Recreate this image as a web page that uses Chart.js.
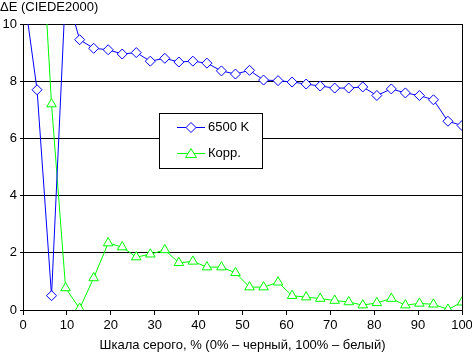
<!DOCTYPE html>
<html>
<head>
<meta charset="utf-8">
<script src="https://cdn.jsdelivr.net/npm/chart.js@4/dist/chart.umd.min.js"></script>
<style>
  html, body { margin: 0; padding: 0; background: #fff; }
  #wrap { width: 472px; height: 353px; position: relative; }
</style>
</head>
<body>
<div id="wrap"><canvas id="chart"></canvas></div>
<script>
// gray level, %
const grayLevels = [0, 3.2, 6.5, 9.7, 12.9, 16.1, 19.4, 22.6, 25.8, 29, 32.3, 35.5, 38.7, 41.9, 45.2, 48.4,
  51.6, 54.8, 58.1, 61.3, 64.5, 67.7, 71, 74.2, 77.4, 80.6, 83.9, 87.1, 90.3, 93.5, 96.8, 100];
const de6500 = [11.3, 7.7, 0.5, 11.2, 9.45, 9.15, 9.1, 8.95, 9.0, 8.7, 8.8, 8.67, 8.7, 8.63, 8.36, 8.25,
  8.38, 8.04, 8.02, 7.97, 7.9, 7.83, 7.76, 7.76, 7.8, 7.5, 7.73, 7.59, 7.5, 7.35, 6.6, 6.45];
const deCorr = [20, 16, 7.2, 0.77, 0.05, 1.12, 2.34, 2.2, 1.85, 1.95, 2.1, 1.65, 1.7, 1.5, 1.5, 1.3,
  0.8, 0.8, 0.97, 0.5, 0.45, 0.4, 0.33, 0.28, 0.17, 0.25, 0.4, 0.17, 0.23, 0.2, 0.02, 0.27];
const seriesNames = ["6500 K", "Корр."];
const yTitle = "ΔE (CIEDE2000)";
const xTitle = "Шкала серого, % (0% – черный, 100% – белый)";

const FONT = "'Liberation Sans', Arial, sans-serif";

function toPoints(xs, ys) {
  return xs.map((x, i) => ({ x: x, y: ys[i] }));
}

function drawMarker(ctx, style, x, y, color) {
  ctx.save();
  ctx.strokeStyle = color;
  ctx.fillStyle = "#fff";
  ctx.lineWidth = 1;
  ctx.beginPath();
  if (style === "rectRot") {
    ctx.moveTo(x, y - 5); ctx.lineTo(x + 5, y); ctx.lineTo(x, y + 5); ctx.lineTo(x - 5, y);
  } else {
    ctx.moveTo(x, y - 5); ctx.lineTo(x + 5.5, y + 4); ctx.lineTo(x - 5.5, y + 4);
  }
  ctx.closePath();
  ctx.fill();
  ctx.stroke();
  ctx.restore();
}

// title at top-left, right frame line, legend box inside plot
const extrasPlugin = {
  id: "extras",
  afterDraw(chart) {
    const ctx = chart.ctx;
    const a = chart.chartArea;
    ctx.save();
    ctx.fillStyle = "#000";
    ctx.font = "13px " + FONT;
    ctx.textBaseline = "alphabetic";
    ctx.textAlign = "left";
    ctx.fillText(yTitle, 0, 10.5);

    ctx.strokeStyle = "#000";
    ctx.lineWidth = 1;
    ctx.beginPath();
    ctx.moveTo(Math.round(a.right) + 0.5, a.top);
    ctx.lineTo(Math.round(a.right) + 0.5, a.bottom);
    ctx.stroke();

    // legend
    const bx = 159.5, by = 113.5, bw = 103, bh = 55;
    ctx.fillStyle = "#fff";
    ctx.fillRect(bx, by, bw, bh);
    ctx.strokeRect(bx, by, bw, bh);
    chart.data.datasets.forEach((ds, i) => {
      const y = 127.5 + i * 26;
      ctx.strokeStyle = ds.borderColor;
      ctx.beginPath();
      ctx.moveTo(177, y);
      ctx.lineTo(205, y);
      ctx.stroke();
      drawMarker(ctx, ds.pointStyle, 191, y, ds.borderColor);
      ctx.fillStyle = "#000";
      ctx.textBaseline = "middle";
      ctx.fillText(ds.label, 208, y);
    });
    ctx.restore();
  }
};

const ctx = document.getElementById("chart").getContext("2d");
const myChart = new Chart(ctx, {
  type: "line",
  data: {
    datasets: [
      {
        label: seriesNames[0],
        data: toPoints(grayLevels, de6500),
        borderColor: "#0000ff",
        borderWidth: 1,
        pointStyle: "rectRot",
        pointRadius: 5,
        pointBackgroundColor: "#fff",
        pointBorderColor: "#0000ff",
        pointBorderWidth: 1
      },
      {
        label: seriesNames[1],
        data: toPoints(grayLevels, deCorr),
        borderColor: "#00ff00",
        borderWidth: 1,
        pointStyle: "triangle",
        pointRadius: 5.5,
        pointBackgroundColor: "#fff",
        pointBorderColor: "#00ff00",
        pointBorderWidth: 1
      }
    ]
  },
  options: {
    responsive: true,
    maintainAspectRatio: false,
    animation: false,
    layout: { padding: { top: 24, right: 0, left: 0, bottom: 0 } },
    plugins: {
      legend: { display: false },
      tooltip: { enabled: false }
    },
    scales: {
      x: {
        type: "linear",
        min: 0,
        max: 100,
        afterFit: (s) => { s.height = 43; s.paddingRight = 10; s.paddingLeft = 0; },
        ticks: { stepSize: 10, color: "#000", font: { family: FONT, size: 13 }, padding: 3, maxRotation: 0 },
        grid: { drawOnChartArea: false, color: "#000", tickLength: 5 },
        border: { color: "#000", width: 1 },
        title: { display: true, text: xTitle, color: "#000", font: { family: FONT, size: 13 }, padding: { top: 0, bottom: 0 } }
      },
      y: {
        min: 0,
        max: 10,
        afterFit: (s) => { s.width = 23; },
        ticks: { stepSize: 2, color: "#000", font: { family: FONT, size: 13 }, padding: 3 },
        grid: { color: "#000", tickLength: 3 },
        border: { color: "#000", width: 1 }
      }
    }
  },
  plugins: [extrasPlugin]
});
</script>
</body>
</html>
